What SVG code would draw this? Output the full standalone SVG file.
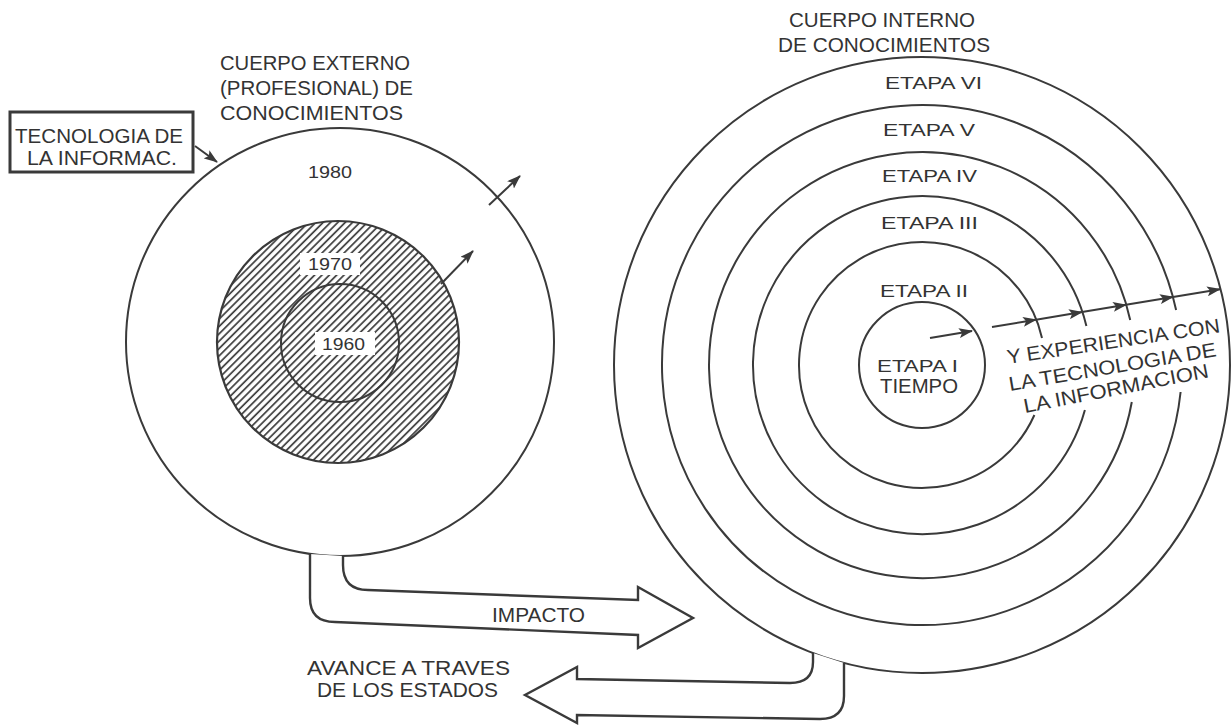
<svg xmlns="http://www.w3.org/2000/svg" width="1231" height="728" viewBox="0 0 1231 728">
  <defs>
    <style>
      .ln{fill:none;stroke:#3a3a3a;stroke-width:2}
      .box{fill:#fff;stroke:#3a3a3a;stroke-width:3}
      .big{fill:#fff;stroke:#3a3a3a;stroke-width:2.4;stroke-linejoin:miter}
      .t{font-family:"Liberation Sans",Arial,sans-serif;fill:#333;font-size:20px}
      .s{font-size:17px}
      .bg{fill:#fff}
    </style>
    <pattern id="hatch" patternUnits="userSpaceOnUse" width="5.2" height="10" patternTransform="rotate(45)">
      <line x1="1" y1="-1" x2="1" y2="11" stroke="#3a3a3a" stroke-width="1.7"/>
    </pattern>
    <marker id="ah" markerUnits="userSpaceOnUse" markerWidth="14" markerHeight="10" viewBox="0 0 14 10" refX="13" refY="5" orient="auto">
      <path d="M0,0 L14,5 L0,10 L3,5 z" fill="#3a3a3a"/>
    </marker>
  </defs>

  <rect width="1231" height="728" fill="#fff"/>

  <!-- external (professional) body of knowledge -->
  <g id="external-body">
    <circle class="ln" cx="340" cy="342" r="214"/>
    <circle cx="338" cy="342" r="121" fill="url(#hatch)" stroke="#3a3a3a" stroke-width="2.2"/>
    <circle class="ln" cx="340" cy="343" r="59"/>
    <rect class="bg" x="300" y="253" width="60" height="22"/>
    <rect class="bg" x="315" y="332" width="60" height="23"/>
    <text class="t" x="220" y="70" textLength="190" lengthAdjust="spacingAndGlyphs">CUERPO EXTERNO</text>
    <text class="t" x="220" y="95" textLength="193" lengthAdjust="spacingAndGlyphs">(PROFESIONAL) DE</text>
    <text class="t" x="220" y="120" textLength="183" lengthAdjust="spacingAndGlyphs">CONOCIMIENTOS</text>
    <text class="t s" x="308" y="178" textLength="44" lengthAdjust="spacingAndGlyphs">1980</text>
    <text class="t s" x="308" y="270" textLength="44" lengthAdjust="spacingAndGlyphs">1970</text>
    <text class="t s" x="322" y="350" textLength="43" lengthAdjust="spacingAndGlyphs">1960</text>
  </g>

  <!-- information technology box -->
  <g id="it-box">
    <rect class="box" x="10" y="112" width="183" height="60"/>
    <text class="t" x="15" y="143" textLength="168" lengthAdjust="spacingAndGlyphs">TECNOLOGIA DE</text>
    <text class="t" x="27" y="165" textLength="150" lengthAdjust="spacingAndGlyphs">LA INFORMAC.</text>
  </g>

  <!-- internal body of knowledge: stages I-VI -->
  <g id="internal-body">
    <circle class="ln" cx="922" cy="365" r="308"/>
    <path class="ln" d="M1180.6 392 A260 260 0 1 1 1176.1 310"/>
    <path class="ln" d="M1131.8 402 A213 213 0 1 1 1130.2 320"/>
    <path class="ln" d="M1084.9 410 A169 169 0 1 1 1086.4 326"/>
    <path class="ln" d="M1034.4 415 A123 123 0 1 1 1042 338"/>
    <circle class="ln" cx="922" cy="365" r="63"/>
    <text class="t" x="789" y="27" textLength="186" lengthAdjust="spacingAndGlyphs">CUERPO INTERNO</text>
    <text class="t" x="778" y="52" textLength="212" lengthAdjust="spacingAndGlyphs">DE CONOCIMIENTOS</text>
    <text class="t s" x="885" y="89" textLength="97" lengthAdjust="spacingAndGlyphs">ETAPA VI</text>
    <text class="t s" x="883" y="136" textLength="92" lengthAdjust="spacingAndGlyphs">ETAPA V</text>
    <text class="t s" x="882" y="182" textLength="95" lengthAdjust="spacingAndGlyphs">ETAPA IV</text>
    <text class="t s" x="881" y="229" textLength="97" lengthAdjust="spacingAndGlyphs">ETAPA III</text>
    <text class="t s" x="880" y="297" textLength="88" lengthAdjust="spacingAndGlyphs">ETAPA II</text>
    <text class="t s" x="877" y="372" textLength="81" lengthAdjust="spacingAndGlyphs">ETAPA I</text>
    <text class="t" x="880" y="393" font-size="22" textLength="78" lengthAdjust="spacingAndGlyphs">TIEMPO</text>
    <text class="t" x="1008" y="364" font-size="18" transform="rotate(-8.5 1008 364)" textLength="215" lengthAdjust="spacingAndGlyphs">Y EXPERIENCIA CON</text>
    <text class="t" x="1010" y="391" font-size="18" transform="rotate(-9.6 1010 391)" textLength="210" lengthAdjust="spacingAndGlyphs">LA TECNOLOGIA DE</text>
    <text class="t" x="1025" y="413" font-size="18" transform="rotate(-11 1025 413)" textLength="188" lengthAdjust="spacingAndGlyphs">LA INFORMACION</text>
  </g>

  <!-- connectors -->
  <g id="connectors">
    <line class="ln" x1="195" y1="146" x2="217" y2="162" marker-end="url(#ah)"/>
    <line class="ln" x1="489" y1="205" x2="520" y2="176" marker-end="url(#ah)"/>
    <line class="ln" x1="441" y1="284" x2="473" y2="251" marker-end="url(#ah)"/>
    <line class="ln" x1="930" y1="338" x2="972" y2="331" marker-end="url(#ah)"/>
    <line class="ln" x1="992" y1="327" x2="1036" y2="319.7" marker-end="url(#ah)"/>
    <line class="ln" x1="1036" y1="319.7" x2="1082" y2="312.1" marker-end="url(#ah)"/>
    <line class="ln" x1="1082" y1="312.1" x2="1126" y2="304.8" marker-end="url(#ah)"/>
    <line class="ln" x1="1126" y1="304.8" x2="1173" y2="297" marker-end="url(#ah)"/>
    <line class="ln" x1="1173" y1="297" x2="1220" y2="289.2" marker-end="url(#ah)"/>
    <g id="impacto">
      <path class="big" d="M310 554 L310 598 Q310 622 335 622 L638 635 L638 648 L693 618 L638 587 L638 600 L368 590 Q343 590 343 565 L343 556"/>
      <text class="t" x="492" y="622" textLength="93" lengthAdjust="spacingAndGlyphs">IMPACTO</text>
    </g>
    <g id="avance">
      <path class="big" d="M813 653 L813 662 Q813 683 790 683 L577 679 L577 667 L525 695 L577 723 L577 715 L820 719 Q844 719 844 696 L844 663"/>
      <text class="t" x="307" y="675" textLength="203" lengthAdjust="spacingAndGlyphs">AVANCE A TRAVES</text>
      <text class="t" x="317" y="697" textLength="181" lengthAdjust="spacingAndGlyphs">DE LOS ESTADOS</text>
    </g>
  </g>
</svg>
